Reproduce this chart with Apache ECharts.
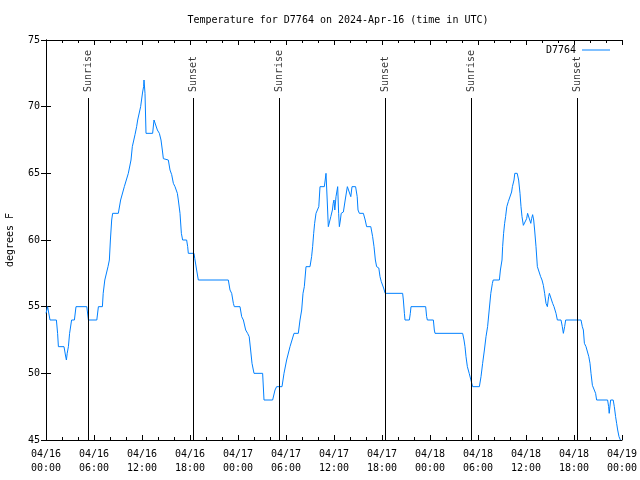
<!DOCTYPE html>
<html><head><meta charset="utf-8">
<script src="https://cdn.jsdelivr.net/npm/echarts@6/dist/echarts.min.js"></script>
<style>html,body{margin:0;padding:0;background:#fff}#c{width:640px;height:480px}</style>
</head><body><div id="c"></div>
<script>
// hours since 2024-04-16 00:00 UTC
var hours = [0,0.2,0.35,0.5,1.3,1.45,1.55,2.25,2.45,2.55,2.65,2.8,2.95,3.2,3.55,3.75,5.1,5.3,6.35,6.55,7.05,7.15,7.35,7.6,7.75,7.92,8.05,8.21,8.33,9.04,9.33,9.79,10.29,10.625,10.79,11.125,11.33,11.46,11.67,11.83,12.08,12.2,12.25,12.375,12.5,13.33,13.5,13.75,13.92,14.17,14.375,14.54,14.67,15.29,15.5,15.71,15.92,16.125,16.42,16.54,16.75,16.92,17.08,17.58,17.71,17.79,18.5,18.6,18.83,19.04,22.79,23.0,23.21,23.42,23.54,24.25,24.46,24.67,24.96,25.2,25.4,25.58,25.75,26.0,27.08,27.25,28.33,28.625,28.83,29.5,29.75,30.08,30.3,30.5,30.75,31.0,31.54,31.75,31.96,32.125,32.29,32.5,33.0,33.2,33.33,33.46,33.58,33.75,33.96,34.1,34.25,34.79,34.9,35.0,35.15,35.29,35.5,35.6,35.8,35.9,36.0,36.1,36.25,36.46,36.58,36.67,36.8,36.9,37.17,37.4,37.6,37.67,37.9,38.1,38.25,38.7,38.9,39.0,39.17,39.67,39.9,40.08,40.6,40.83,41.0,41.17,41.33,41.6,41.75,41.9,42.2,42.4,44.58,44.67,44.8,44.875,45.42,45.54,45.625,47.46,47.58,47.67,48.42,48.54,48.625,52.08,52.25,52.375,52.5,52.67,52.9,53.125,53.33,54.17,54.375,54.58,54.8,55.0,55.2,55.4,55.6,55.8,55.9,56.67,56.8,57.0,57.08,57.2,57.33,57.45,57.6,57.8,58.0,58.2,58.3,58.5,58.6,58.9,59.08,59.25,59.375,59.5,59.67,59.9,60.08,60.2,60.4,60.6,60.7,60.83,60.96,61.08,61.25,61.42,61.67,61.83,62.0,62.17,62.33,62.5,62.67,62.83,62.92,63.17,63.33,63.5,63.75,63.92,64.375,64.54,64.67,64.83,64.96,66.875,67.04,67.17,67.3,67.5,67.7,67.85,68.0,68.125,68.3,68.4,68.5,68.7,68.83,70.2,70.33,70.4,70.58,70.9,71.04,71.2,71.33,71.46,71.625,71.8];
var temps = [54.5,55,55,54,54,53,52,52,51.3,51,51.5,52,53,54,54,55,55,54,54,55,55,56,57,57,58,58.5,60,61.5,62,62,63,64,65,66,67,67.9,68.5,69,69.1,70,71.1,71.5,72,71,68,68,69,69,68.25,68,67.5,66.75,66.1,66,65.25,64.9,64.25,64,63.5,63,62,60.5,60,60,59.5,59,59,58.6,57.75,57,57,56.25,56,55.25,55,55,54.25,54,53.25,53,52.75,51.75,50.75,50,50,48,48,48.75,49,49,50,51,51,52,52.5,53,53,54,54.75,56,56.5,58,58,58.75,59.5,60.5,61.25,62,62,62.5,64,64,64.5,65,63,61,61,61.75,62.25,62.75,63,62.25,63.25,64,62,61,61.5,62,62.1,63,63.75,64,64,63.25,64,64,63.25,62.25,62,62,61.5,61,61,60.25,59.5,58.5,58,57.9,57.25,56.9,56.4,56,56,55.5,54.5,54,54,54.5,55,55,54.25,54,54,53.25,53,53,52.5,52,51.25,50.5,50,50,49,49,49.75,50.75,51.75,52.75,53.5,54.75,56,56.75,57,57,57.75,58.5,59.5,60.5,61.25,61.75,62.5,62.9,63,63.6,64,64.5,65,65,64.5,63.5,62.5,61.75,61.1,61.1,61.6,62,62,61.25,61.6,61.9,61.5,60.75,59.5,58,58,57.25,57,56.6,56,55.25,55,55.75,56,56,55.25,55,54.5,54,54,53.5,53,53.5,54,54,53.5,53.25,52.25,52,52,51.25,50.75,50,49.1,49,49,48.5,48,48,47.5,47,48,48,47.5,46.75,46.25,45.75,45.25,45];
var eventHours = [5.25, 18.375, 29.125, 42.375, 53.125, 66.375];
var eventNames = ['Sunrise','Sunset','Sunrise','Sunset','Sunrise','Sunset'];
var eventTop = 70.65;
var dayLabels = ['04/16','04/17','04/18','04/19'];
var seriesName = 'D7764';
var titleText = 'Temperature for D7764 on 2024-Apr-16 (time in UTC)';
var yName = 'degrees F';

var FONT = 'DejaVu Sans Mono';
var data = hours.map(function(h,i){return [h, temps[i]];});
var markData = eventHours.map(function(h){return [{coord:[h,45]},{coord:[h,eventTop]}];});
var labelData = eventHours.map(function(h,i){return {value:[h,eventTop], name:eventNames[i]};});

function xfmt(v){
  var d = Math.floor(v/24), hh = v - d*24;
  var hs = (hh<10?'0':'')+hh+':00';
  return dayLabels[d] + '\n' + hs;
}
var tickCommon = {show:true, inside:true, length:5, lineStyle:{color:'#000'}};
var minorCommon = {show:true, splitNumber:3, length:3, lineStyle:{color:'#000'}};
var chart = echarts.init(document.getElementById('c'), null, {renderer:'canvas'});
chart.setOption({
  animation:false,
  backgroundColor:'#fff',
  title:{text:titleText, left:333, top:10, textAlign:'center',
    textStyle:{fontFamily:FONT, fontSize:10, fontWeight:'normal', color:'#000'}},
  legend:{data:[seriesName], right:25, top:40, align:'right', icon:'rect', itemWidth:28, itemHeight:1, itemGap:0,
    textStyle:{fontFamily:FONT, fontSize:10, color:'#000', padding:[0,1,0,0]}},
  grid:{left:46, right:18, top:40, bottom:40, containLabel:false, outerBoundsMode:'none'},
  xAxis:[{type:'value', min:0, max:72, interval:6,
      axisLine:{show:true, lineStyle:{color:'#000', width:1}},
      axisTick:tickCommon, minorTick:minorCommon, splitLine:{show:false},
      axisLabel:{formatter:xfmt, fontFamily:FONT, fontSize:10, color:'#000', lineHeight:14, margin:7, showMinLabel:true, showMaxLabel:true}},
    {type:'value', min:0, max:72, interval:6, position:'top',
      axisLine:{show:true, lineStyle:{color:'#000', width:1}},
      axisTick:tickCommon, minorTick:minorCommon, splitLine:{show:false}, axisLabel:{show:false}}],
  yAxis:[{type:'value', min:45, max:75, interval:5, name:yName, nameLocation:'middle', nameGap:31,
      nameTextStyle:{fontFamily:FONT, fontSize:10, color:'#000'},
      axisLine:{show:true, lineStyle:{color:'#000', width:1}},
      axisTick:tickCommon, splitLine:{show:false},
      axisLabel:{fontFamily:FONT, fontSize:10, color:'#000', margin:6}},
    {type:'value', min:45, max:75, interval:5, position:'right',
      axisLine:{show:true, lineStyle:{color:'#000', width:1}},
      axisTick:tickCommon, splitLine:{show:false}, axisLabel:{show:false}}],
  series:[
    {name:seriesName, type:'line', data:data, showSymbol:false, symbol:'none',
     lineStyle:{color:'#0080ff', width:1}, itemStyle:{color:'#0080ff'},
     markLine:{silent:true, symbol:['none','none'], label:{show:false},
       lineStyle:{color:'#000', width:1, type:'solid'}, data:markData}},
    {name:'events', type:'scatter', data:labelData, symbolSize:0, silent:true,
     label:{show:true, formatter:function(p){return p.name;}, position:'top', distance:6,
       rotate:90, align:'left', verticalAlign:'middle',
       fontFamily:FONT, fontSize:10, color:'#000'}}
  ]
});
</script></body></html>
